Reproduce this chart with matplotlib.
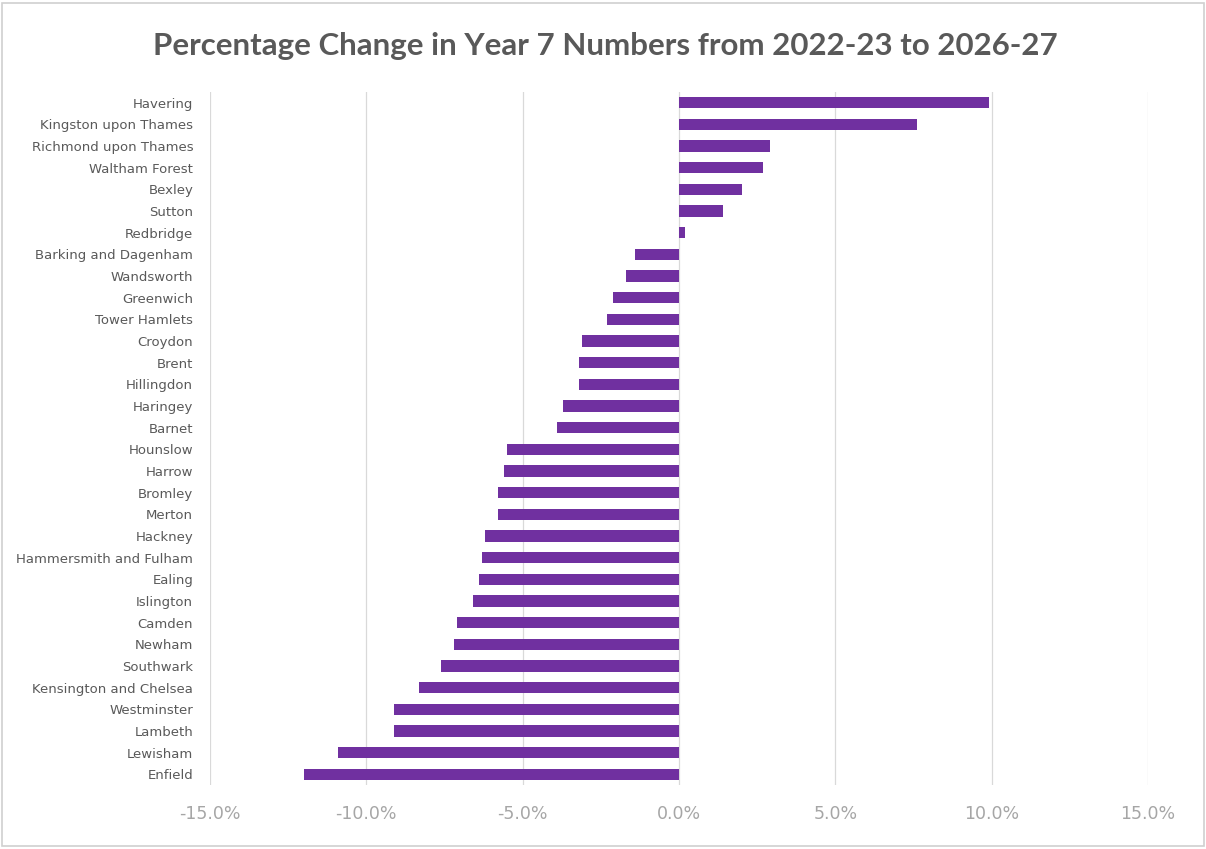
import matplotlib.pyplot as plt
from matplotlib.ticker import FuncFormatter

# Year 7 numbers, percentage change 2022-23 to 2026-27 by borough
boroughs = [
    'Havering', 'Kingston upon Thames', 'Richmond upon Thames', 'Waltham Forest',
    'Bexley', 'Sutton', 'Redbridge', 'Barking and Dagenham', 'Wandsworth',
    'Greenwich', 'Tower Hamlets', 'Croydon', 'Brent', 'Hillingdon', 'Haringey',
    'Barnet', 'Hounslow', 'Harrow', 'Bromley', 'Merton', 'Hackney',
    'Hammersmith and Fulham', 'Ealing', 'Islington', 'Camden', 'Newham',
    'Southwark', 'Kensington and Chelsea', 'Westminster', 'Lambeth', 'Lewisham',
    'Enfield',
]
change = [
    9.9, 7.6, 2.9, 2.7, 2.0, 1.4, 0.2, -1.4, -1.7,
    -2.1, -2.3, -3.1, -3.2, -3.2, -3.7,
    -3.9, -5.5, -5.6, -5.8, -5.8, -6.2,
    -6.3, -6.4, -6.6, -7.1, -7.2,
    -7.6, -8.3, -9.1, -9.1, -10.9,
    -12.0,
]
x_ticks = [-15, -10, -5, 0, 5, 10, 15]

fig = plt.figure(figsize=(12.06, 8.49), dpi=100)
fig.patch.set_facecolor('white')
ax = fig.add_axes([0.174, 0.075, 0.778, 0.817])

ypos = list(range(len(boroughs)))
ax.barh(ypos, change, height=0.52, color='#7030A0', zorder=3)

ax.set_xlim(-15, 15)
ax.set_ylim(len(boroughs) - 0.5, -0.5)
ax.set_xticks(x_ticks)
ax.xaxis.set_major_formatter(FuncFormatter(lambda v, p: f'{v:.1f}%'))
ax.set_yticks(ypos)
ax.set_yticklabels(boroughs)

ax.grid(axis='x', color='#D9D9D9', linewidth=0.9, zorder=0)
for s in ax.spines.values():
    s.set_visible(False)
ax.tick_params(axis='both', length=0)
ax.tick_params(axis='y', labelsize=9.5, labelcolor='#595959', pad=12)
ax.tick_params(axis='x', labelsize=12.5, labelcolor='#A6A6A6', pad=14)

fig.text(0.502, 0.946, 'Percentage Change in Year 7 Numbers from 2022-23 to 2026-27',
         ha='center', va='center', fontsize=22.5, color='#595959',
         fontfamily='Lato', fontweight='bold')

# light frame round the chart area
fig.add_artist(plt.Rectangle((0.002, 0.003), 0.996, 0.994, transform=fig.transFigure,
                             fill=False, edgecolor='#D0D0D0', linewidth=1.2))

fig.savefig('out.png', dpi=100, facecolor='white')
